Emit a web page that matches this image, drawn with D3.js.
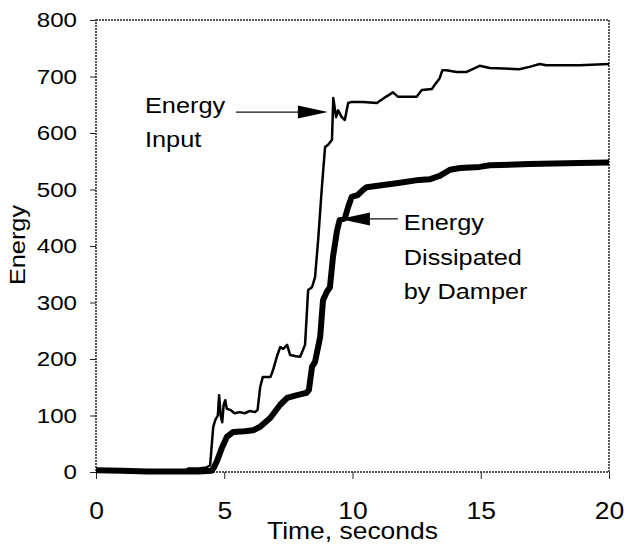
<!DOCTYPE html>
<html>
<head>
<meta charset="utf-8">
<script src="https://cdn.jsdelivr.net/npm/d3@7"></script>
<style>
  body { margin: 0; background: #fff; }
  text { font-family: "Liberation Sans", Arial, sans-serif; fill: #000; }
</style>
</head>
<body>
<svg id="energy" width="624" height="549"></svg>
<script>
// energy input (thin line): [time s, energy]
const inputData = [
  [0, 4], [1, 2], [2, 1], [3, 1], [3.5, 3], [3.6, 6], [4.0, 6], [4.3, 8], [4.45, 12],
  [4.57, 80], [4.65, 92], [4.75, 100], [4.8, 136], [4.86, 100], [4.92, 88], [4.98, 120],
  [5.04, 127], [5.1, 112], [5.23, 110], [5.4, 104], [5.6, 106], [5.8, 104], [6.0, 108],
  [6.2, 106], [6.3, 110], [6.4, 150], [6.5, 168], [6.8, 168], [6.9, 180], [7.05, 204],
  [7.18, 221], [7.3, 218], [7.45, 225], [7.57, 207], [7.8, 205], [7.96, 204], [8.15, 225],
  [8.27, 322], [8.42, 327], [8.54, 345], [8.66, 410], [8.8, 500], [8.93, 575], [9.05, 579],
  [9.2, 588], [9.25, 662], [9.36, 628], [9.44, 640], [9.58, 628], [9.7, 623], [9.83, 653],
  [9.97, 655], [10.4, 655], [10.95, 653], [11.3, 664], [11.58, 672], [11.78, 664],
  [12.5, 664], [12.7, 676], [13.1, 678], [13.2, 685], [13.4, 697], [13.5, 711], [13.66, 711],
  [14.06, 708], [14.45, 708], [14.96, 719], [15.35, 715], [16.5, 713], [16.9, 717],
  [17.3, 722], [17.55, 720], [18.85, 720], [20, 722]
];

// energy dissipated by damper (thick line)
const dampData = [
  [0, 3], [1, 2], [2, 1], [3, 1], [4.0, 1], [4.5, 2], [4.6, 8], [4.73, 21], [4.92, 44],
  [5.1, 62], [5.35, 71], [5.8, 72], [6.13, 74], [6.4, 80], [6.8, 96], [7.18, 119],
  [7.45, 131], [7.84, 136], [8.2, 140], [8.3, 145], [8.42, 186], [8.54, 195], [8.74, 239],
  [8.85, 304], [9.0, 319], [9.12, 327], [9.24, 381], [9.4, 428], [9.5, 446], [9.7, 449],
  [9.83, 469], [9.97, 487], [10.2, 490], [10.4, 499], [10.55, 504], [11.2, 508],
  [11.85, 512], [12.6, 517], [13.0, 518], [13.4, 524], [13.8, 535], [14.2, 538],
  [14.96, 540], [15.35, 543], [16.9, 545], [18.85, 547], [20, 548]
];

const xTicks = [0, 5, 10, 15, 20];
const yTicks = [0, 100, 200, 300, 400, 500, 600, 700, 800];

// annotations in data units: text lines and arrows (tail -> tip)
const inputLabel = { t: 1.91, lines: [["Energy", 635], ["Input", 575]] };
const inputArrow = { from: [5.46, 637], to: [9.04, 637] };
const dampLabel = { t: 12.0, lines: [["Energy", 428], ["Dissipated", 366], ["by Damper", 306]] };
const dampArrow = { from: [11.77, 448], to: [9.51, 448] };

const svg = d3.select("svg#energy");
const margins = { top: 20, right: 15, bottom: 77, left: 96 };
const width = +svg.attr("width");
const height = +svg.attr("height");
const chartWidth = width - margins.left - margins.right;
const chartHeight = height - margins.top - margins.bottom;

const stretch = "scale(1.15,1)";

const xScale = d3.scaleLinear().domain([0, 20]).range([0, chartWidth]);
const yScale = d3.scaleLinear().domain([0, 800]).range([chartHeight, 0]);

const chart = svg.append("g")
  .attr("transform", "translate(" + margins.left + "," + margins.top + ")");

// left axis
const leftAxis = d3.axisLeft(yScale).tickValues(yTicks).tickSize(6).tickSizeOuter(0);
const yAxisG = chart.append("g").call(leftAxis);
yAxisG.select(".domain").remove();
yAxisG.selectAll("line").attr("stroke", "#222");
yAxisG.selectAll("text")
  .attr("x", -16.5)
  .attr("transform", stretch)
  .style("font-size", "21px");

// bottom axis
const bottomAxis = d3.axisBottom(xScale).tickValues(xTicks).tickSize(7).tickSizeOuter(0);
const xAxisG = chart.append("g")
  .attr("transform", "translate(0," + chartHeight + ")")
  .call(bottomAxis);
xAxisG.select(".domain").remove();
xAxisG.selectAll("line").attr("stroke", "#222");
xAxisG.selectAll("text")
  .attr("y", 30.5)
  .attr("transform", stretch)
  .style("font-size", "23px");

// dotted frame
chart.append("rect")
  .attr("x", 0).attr("y", 0)
  .attr("width", chartWidth).attr("height", chartHeight)
  .attr("fill", "none")
  .attr("stroke", "#222")
  .attr("stroke-width", 1.5)
  .attr("stroke-dasharray", "2,1");

// curves
const line = d3.line().x(d => xScale(d[0])).y(d => yScale(d[1]));

chart.append("path")
  .datum(inputData)
  .attr("d", line)
  .attr("fill", "none")
  .attr("stroke", "#000")
  .attr("stroke-width", 2.5)
  .attr("stroke-linejoin", "round");

chart.append("path")
  .datum(dampData)
  .attr("d", line)
  .attr("fill", "none")
  .attr("stroke", "#000")
  .attr("stroke-width", 6)
  .attr("stroke-linejoin", "round");

// annotations
function label(lab) {
  lab.lines.forEach(l => {
    chart.append("text")
      .text(l[0])
      .attr("transform", "translate(" + xScale(lab.t) + "," + yScale(l[1]) + ") " + stretch)
      .style("font-size", "22px");
  });
}

function arrow(a) {
  const x1 = xScale(a.from[0]), y1 = yScale(a.from[1]);
  const x2 = xScale(a.to[0]), y2 = yScale(a.to[1]);
  const dir = Math.sign(x2 - x1);
  chart.append("line")
    .attr("x1", x1).attr("y1", y1)
    .attr("x2", x2 - dir * 20).attr("y2", y2)
    .attr("stroke", "#111").attr("stroke-width", 1.3);
  chart.append("path")
    .attr("d", "M" + x2 + "," + y2 + "L" + (x2 - dir * 30) + "," + (y2 - 6.5) +
      "L" + (x2 - dir * 30) + "," + (y2 + 6.5) + "Z")
    .attr("fill", "#000");
}

label(inputLabel);
arrow(inputArrow);
label(dampLabel);
arrow(dampArrow);

// axis titles
svg.append("text")
  .text("Time, seconds")
  .attr("text-anchor", "middle")
  .attr("transform", "translate(" + (margins.left + xScale(10)) + ",539) " + stretch)
  .style("font-size", "23px");

svg.append("text")
  .text("Energy")
  .attr("text-anchor", "middle")
  .attr("transform", "translate(25," + (margins.top + yScale(400) - 1) + ") rotate(-90) " + stretch)
  .style("font-size", "22px");
</script>
</body>
</html>
